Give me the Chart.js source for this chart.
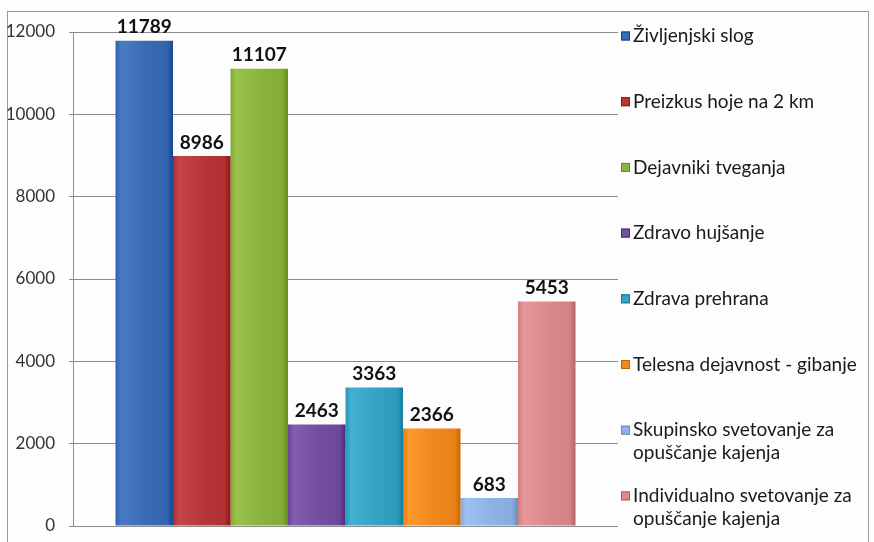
<!DOCTYPE html>
<html>
<head>
<meta charset="utf-8">
<script src="https://cdn.jsdelivr.net/npm/chart.js@4.4.1/dist/chart.umd.min.js"></script>
<style>
  html, body { margin: 0; padding: 0; background: #fff; }
  #wrap { width: 874px; height: 542px; position: relative; }
</style>
</head>
<body>
<div id="wrap"><canvas id="myChart" width="874" height="542"></canvas></div>
<script>
// podatki
const categories = ['Življenjski slog', 'Preizkus hoje na 2 km', 'Dejavniki tveganja', 'Zdravo hujšanje',
    'Zdrava prehrana', 'Telesna dejavnost - gibanje', 'Skupinsko svetovanje za\nopuščanje kajenja',
    'Individualno svetovanje za\nopuščanje kajenja'];
const values = [11789, 8986, 11107, 2463, 3363, 2366, 683, 5453];
const yTicks = [0, 2000, 4000, 6000, 8000, 10000, 12000];

const colors = ['#3a6db6', '#b8383a', '#8ab43e', '#7550a0', '#36a3c4', '#f08a1e', '#8fb3e2', '#d98a8c'];

function shade(hex, amt) {
    const n = parseInt(hex.slice(1), 16);
    let r = (n >> 16) + amt, g = ((n >> 8) & 255) + amt, b = (n & 255) + amt;
    r = Math.max(0, Math.min(255, r)); g = Math.max(0, Math.min(255, g)); b = Math.max(0, Math.min(255, b));
    return `rgb(${r},${g},${b})`;
}

// gradient po širini stolpca
function barFill(c) {
    const base = colors[c.datasetIndex];
    const meta = c.chart.getDatasetMeta(c.datasetIndex);
    const el = meta.data[c.dataIndex];
    if (!el || !el.width) return base;
    const x0 = el.x - el.width / 2, x1 = el.x + el.width / 2;
    const g = c.chart.ctx.createLinearGradient(x0, 0, x1, 0);
    g.addColorStop(0, shade(base, -12));
    g.addColorStop(0.1, shade(base, 14));
    g.addColorStop(0.5, base);
    g.addColorStop(0.9, shade(base, -8));
    g.addColorStop(1, shade(base, -38));
    return g;
}

const frame = {
    id: 'frame',
    beforeDraw(chart) {
        const ctx = chart.ctx;
        ctx.save();
        ctx.fillStyle = '#fdfdfd';
        ctx.fillRect(0, 0, chart.width, chart.height);
        ctx.strokeStyle = '#9a9a9a';
        ctx.lineWidth = 1;
        ctx.strokeRect(7.5, 11.5, 861, 540);
        ctx.restore();
    }
};

const valueLabels = {
    id: 'valueLabels',
    afterDatasetsDraw(chart) {
        const ctx = chart.ctx;
        ctx.save();
        ctx.font = 'bold 19px Lato, "Open Sans", sans-serif';
        ctx.fillStyle = '#111';
        ctx.textAlign = 'center';
        ctx.textBaseline = 'bottom';
        chart.data.datasets.forEach((ds, i) => {
            chart.getDatasetMeta(i).data.forEach((el, j) => {
                ctx.fillText(ds.data[j], el.x, el.y - 4);
            });
        });
        ctx.restore();
    }
};

const sideLegend = {
    id: 'sideLegend',
    afterDraw(chart) {
        const ctx = chart.ctx;
        const x = chart.chartArea.right + 3;
        ctx.save();
        ctx.font = '19px Lato, "Open Sans", sans-serif';
        ctx.textBaseline = 'middle';
        chart.data.datasets.forEach((ds, i) => {
            const y = 36 + i * 65.7;
            ctx.fillStyle = colors[i];
            ctx.fillRect(x, y - 4.5, 9, 9);
            ctx.strokeStyle = shade(colors[i], -40);
            ctx.strokeRect(x + 0.5, y - 4, 8, 8);
            ctx.fillStyle = '#1a1a1a';
            ds.label.split('\n').forEach((line, k) => {
                ctx.fillText(line, x + 12, y + k * 22.5);
            });
        });
        ctx.restore();
    }
};

const ctx = document.getElementById('myChart').getContext('2d');
const chart = new Chart(ctx, {
    type: 'bar',
    data: {
        labels: [''],
        datasets: categories.map((name, i) => ({
            label: name,
            data: [values[i]],
            backgroundColor: barFill,
            borderWidth: 0
        }))
    },
    options: {
        responsive: false,
        animation: false,
        layout: { padding: { left: 0, right: 256, top: 32, bottom: 16 } },
        categoryPercentage: 0.844,
        barPercentage: 1,
        plugins: {
            legend: { display: false },
            tooltip: { enabled: false }
        },
        scales: {
            x: {
                display: false,
                grid: { display: false }
            },
            y: {
                min: 0,
                max: 12000,
                afterBuildTicks: (scale) => { scale.ticks = yTicks.map(v => ({ value: v })); },
                afterFit: (scale) => {
                    scale.width = 73;
                    scale.paddingTop = 0;
                    scale.paddingBottom = 0;
                },
                ticks: {
                    padding: 14,
                    color: '#333',
                    font: { family: 'Lato, "Open Sans", sans-serif', size: 17 },
                    callback: (v) => String(v)
                },
                grid: { color: '#8c8c8c', tickLength: 4 },
                border: { color: '#8c8c8c' }
            }
        }
    },
    plugins: [frame, valueLabels, sideLegend]
});
chart.update(); // drugi prehod, da gradient dobi položaje stolpcev
</script>
</body>
</html>
